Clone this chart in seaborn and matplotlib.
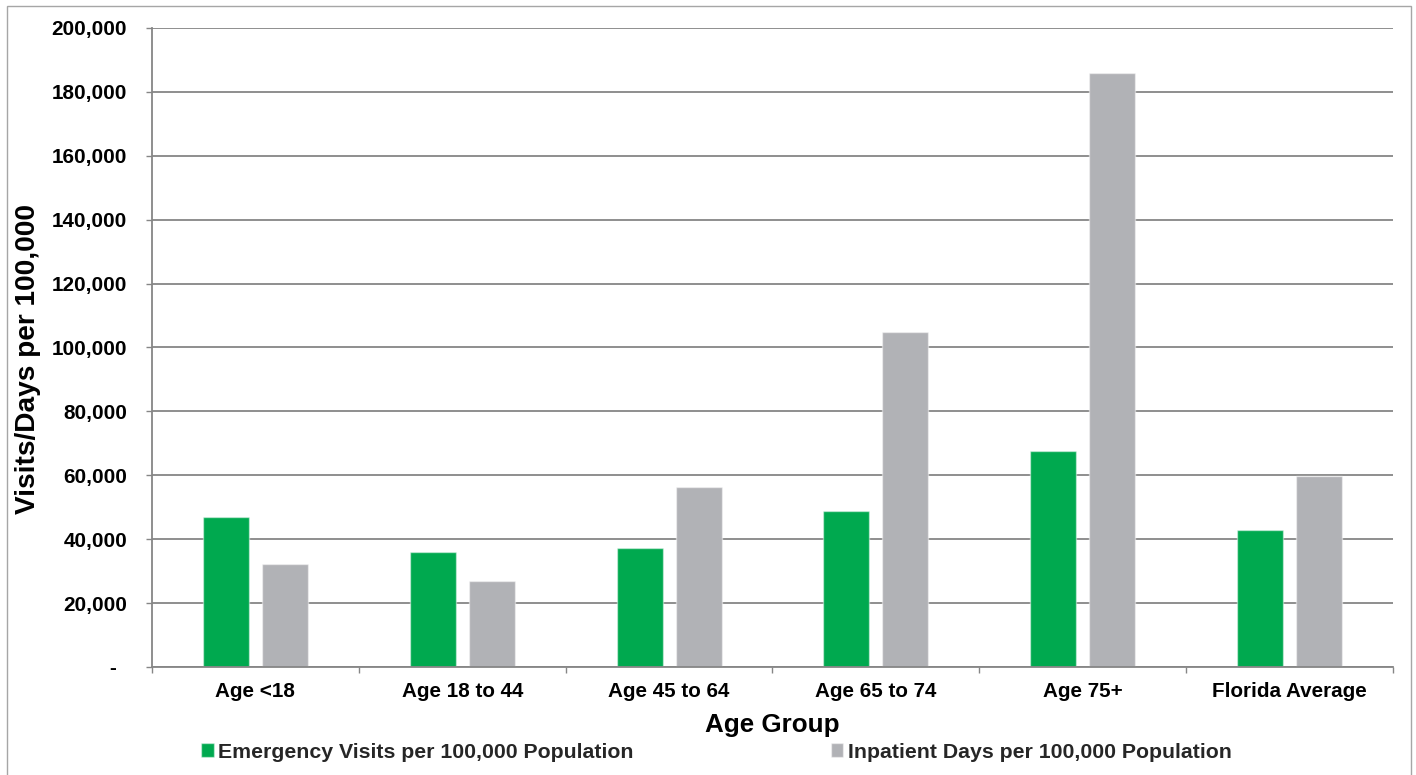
import matplotlib
matplotlib.use("Agg")
import matplotlib.pyplot as plt
from matplotlib.patches import Rectangle
from matplotlib.transforms import ScaledTranslation
from matplotlib.ticker import FixedLocator
import seaborn as sns
import pandas as pd

# Rates per 100,000 population by age group
age_groups = ["Age <18", "Age 18 to 44", "Age 45 to 64", "Age 65 to 74", "Age 75+", "Florida Average"]
series_names = ["Emergency Visits per 100,000 Population", "Inpatient Days per 100,000 Population"]
emergency_visits = [47000, 36000, 37100, 48800, 67500, 42900]
inpatient_days = [32100, 26900, 56300, 104900, 185800, 59800]
y_ticks = list(range(0, 200001, 20000))
y_tick_labels = ["-" if v == 0 else f"{v:,}" for v in y_ticks]

df = pd.DataFrame({
    "Age Group": age_groups * 2,
    "Series": [series_names[0]] * len(age_groups) + [series_names[1]] * len(age_groups),
    "Value": emergency_visits + inpatient_days,
})

sns.set_theme(style="white")
plt.rcParams["font.family"] = ["Liberation Sans", "DejaVu Sans"]
plt.rcParams["font.weight"] = "bold"

W, H = 1416, 775
fig = plt.figure(figsize=(W / 100, H / 100), dpi=100)
ax = fig.add_axes([152 / W, 1 - 667 / H, (1393 - 152) / W, (667 - 28) / H])

green = "#00A94F"
grey = "#B1B2B6"
sns.barplot(
    data=df, x="Age Group", y="Value", hue="Series",
    order=age_groups, hue_order=series_names,
    palette={series_names[0]: green, series_names[1]: grey},
    width=0.571, gap=0.22, saturation=1,
    edgecolor=(1, 1, 1, 0.45), linewidth=1.0,
    ax=ax, legend=True,
)

gridc = "#868686"
ax.set_ylim(0, 200000)
ax.set_xlim(-0.5, len(age_groups) - 0.5)
ax.set_axisbelow(True)
ax.yaxis.grid(True, color=gridc, linewidth=1.3)
ax.xaxis.grid(False)

for side in ["top", "right"]:
    ax.spines[side].set_visible(False)
for side in ["left", "bottom"]:
    ax.spines[side].set_color(gridc)
    ax.spines[side].set_linewidth(1.3)

ax.yaxis.set_major_locator(FixedLocator(y_ticks))
ax.set_yticklabels(y_tick_labels)
ax.tick_params(axis="y", which="major", direction="out", length=4.3, width=1.0,
               color=gridc, pad=13.7, labelsize=14.9, left=True)
ax.xaxis.set_minor_locator(FixedLocator([i - 0.5 for i in range(len(age_groups) + 1)]))
ax.tick_params(axis="x", which="minor", direction="out", length=4.3, width=1.0,
               color=gridc, bottom=True)
ax.tick_params(axis="x", which="major", length=0, pad=11, labelsize=14.9)
for lbl in ax.get_xticklabels() + ax.get_yticklabels():
    lbl.set_fontweight("bold")
    lbl.set_color("black")

ax.set_xlabel("Age Group", fontsize=18.7, fontweight="bold", color="black")
ax.xaxis.set_label_coords(0.5, -0.072)
ax.set_ylabel("Visits/Days per 100,000", fontsize=20.2, fontweight="bold", color="black")
ax.yaxis.label.set_verticalalignment("center")
ax.yaxis.set_label_coords((28 - 152) / (1393 - 152), 1 - (359 - 28) / (667 - 28))

# Legend below the plot, square markers
handles, labels = ax.get_legend_handles_labels()
ax.get_legend().remove()
fig.legend(handles, labels, loc="center", bbox_to_anchor=(716.5 / W, 1 - 752 / H),
           ncol=2, frameon=False, handlelength=0.58, handleheight=0.64,
           handletextpad=0.2, columnspacing=9.3, borderpad=0, borderaxespad=0,
           prop={"weight": "bold", "size": 15.3})

# Outer chart border
fig.add_artist(Rectangle((6.5 / W, -0.05), (1411 - 6.5) / W, 1.05 - 6.5 / H,
                         transform=fig.transFigure, fill=False,
                         edgecolor="#A6A6A6", linewidth=1.0))

# Shift the zero label left as in accounting number format
fig.canvas.draw()
for lbl in ax.get_yticklabels():
    if lbl.get_text() == "-":
        lbl.set_transform(lbl.get_transform() + ScaledTranslation(-11 / 100, 0, fig.dpi_scale_trans))

fig.savefig("out.png", dpi=100, facecolor="white")
